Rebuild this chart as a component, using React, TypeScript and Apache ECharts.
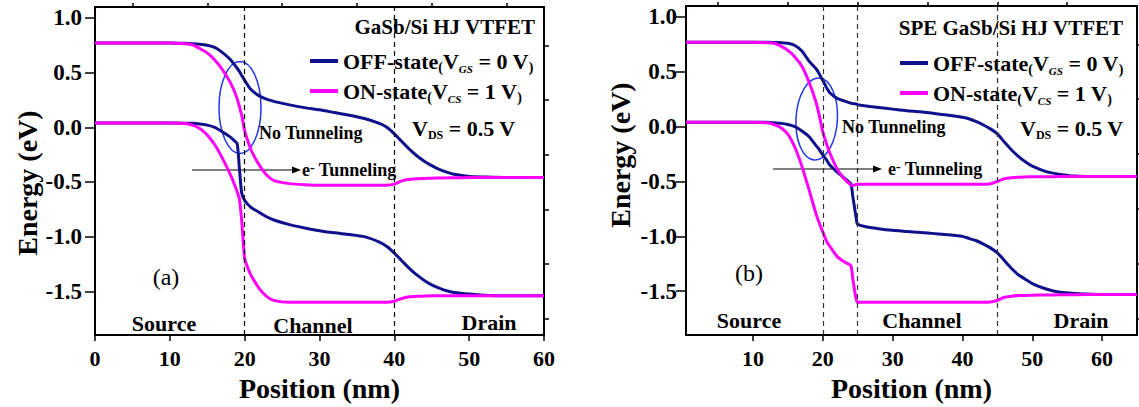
import React, { useEffect, useRef } from "react";
import * as echarts from "echarts";

// ---------- data ----------
const posA = [0, 5, 10, 12, 13, 14, 15, 16, 17, 18, 18.5, 19, 19.3, 19.6, 20, 20.5, 21, 22, 23, 24, 26, 28, 30, 32, 34, 36, 38, 39, 40, 41, 42, 43, 44, 45, 46, 47, 48, 50, 52, 55, 60];
const offCbA = [0.77, 0.77, 0.77, 0.768, 0.765, 0.76, 0.75, 0.73, 0.685, 0.625, 0.585, 0.54, 0.51, 0.475, 0.43, 0.375, 0.335, 0.285, 0.255, 0.235, 0.205, 0.18, 0.16, 0.135, 0.11, 0.08, 0.035, 0.0, -0.06, -0.13, -0.2, -0.26, -0.31, -0.35, -0.385, -0.41, -0.43, -0.45, -0.455, -0.46, -0.46];
const offVbA = [0.04, 0.04, 0.04, 0.038, 0.036, 0.03, 0.02, 0.0, -0.04, -0.085, -0.115, -0.15, -0.38, -0.6, -0.67, -0.71, -0.74, -0.78, -0.82, -0.85, -0.89, -0.92, -0.945, -0.965, -0.98, -1.0, -1.05, -1.09, -1.15, -1.22, -1.29, -1.35, -1.4, -1.44, -1.47, -1.495, -1.51, -1.525, -1.535, -1.54, -1.54];
const onCbA = [0.77, 0.77, 0.77, 0.765, 0.755, 0.72, 0.68, 0.615, 0.53, 0.42, 0.35, 0.26, 0.19, 0.11, -0.03, -0.14, -0.23, -0.35, -0.44, -0.49, -0.515, -0.525, -0.53, -0.53, -0.53, -0.53, -0.53, -0.53, -0.52, -0.49, -0.475, -0.47, -0.468, -0.465, -0.463, -0.462, -0.461, -0.46, -0.46, -0.46, -0.46];
const onVbA = [0.04, 0.04, 0.04, 0.035, 0.02, -0.01, -0.07, -0.16, -0.28, -0.42, -0.5, -0.59, -0.66, -0.85, -1.2, -1.3, -1.37, -1.48, -1.55, -1.585, -1.6, -1.6, -1.6, -1.6, -1.6, -1.6, -1.6, -1.6, -1.59, -1.565, -1.55, -1.545, -1.543, -1.54, -1.54, -1.54, -1.54, -1.54, -1.54, -1.54, -1.54];

const posB = [0.4, 5, 10, 12, 13, 14, 15, 16, 17, 18, 19, 19.5, 20, 20.5, 21, 22, 23, 24, 24.3, 24.9, 25, 26, 28, 30, 32, 34, 36, 38, 40, 41, 42, 43, 44, 45, 46, 47, 48, 49, 50, 52, 54, 56, 60, 65];
const offCbB = [0.77, 0.77, 0.77, 0.77, 0.768, 0.765, 0.76, 0.74, 0.69, 0.6, 0.53, 0.48, 0.42, 0.36, 0.31, 0.26, 0.235, 0.215, 0.21, 0.205, 0.2, 0.19, 0.175, 0.16, 0.145, 0.135, 0.12, 0.105, 0.085, 0.07, 0.045, 0.015, -0.02, -0.065, -0.14, -0.21, -0.27, -0.32, -0.36, -0.41, -0.435, -0.45, -0.455, -0.455];
const offVbB = [0.04, 0.04, 0.04, 0.04, 0.035, 0.03, 0.02, 0.0, -0.04, -0.09, -0.17, -0.21, -0.26, -0.3, -0.35, -0.41, -0.465, -0.52, -0.64, -0.88, -0.89, -0.91, -0.93, -0.945, -0.955, -0.965, -0.975, -0.985, -1.0, -1.02, -1.04, -1.07, -1.105, -1.15, -1.22, -1.29, -1.35, -1.39, -1.43, -1.48, -1.51, -1.52, -1.53, -1.53];
const onCbB = [0.77, 0.77, 0.77, 0.765, 0.76, 0.735, 0.695, 0.635, 0.55, 0.41, 0.23, 0.1, -0.05, -0.15, -0.24, -0.38, -0.47, -0.53, -0.535, -0.525, -0.525, -0.525, -0.525, -0.525, -0.525, -0.525, -0.525, -0.525, -0.525, -0.525, -0.525, -0.525, -0.52, -0.5, -0.475, -0.465, -0.46, -0.458, -0.457, -0.456, -0.455, -0.455, -0.455, -0.455];
const onVbB = [0.04, 0.04, 0.04, 0.035, 0.02, -0.01, -0.07, -0.19, -0.36, -0.57, -0.79, -0.88, -0.96, -1.04, -1.09, -1.18, -1.23, -1.265, -1.39, -1.6, -1.6, -1.6, -1.6, -1.6, -1.6, -1.6, -1.6, -1.6, -1.6, -1.6, -1.6, -1.6, -1.598, -1.585, -1.555, -1.545, -1.54, -1.538, -1.536, -1.535, -1.533, -1.532, -1.53, -1.53];

const xTicksA = [0, 10, 20, 30, 40, 50, 60];
const xTicksB = [10, 20, 30, 40, 50, 60];
const xMinor = [5, 15, 25, 35, 45, 55];
const yTicks = [-1.5, -1.0, -0.5, 0.0, 0.5, 1.0];
const yMinor = [-1.75, -1.25, -0.75, -0.25, 0.25, 0.75];
const boundariesA = [20, 40];
const boundariesB = [20, 25, 45];

const FONT = "'Liberation Serif', 'Times New Roman', serif";
const NAVY = "#10108c";
const MAGENTA = "#ff00ff";
const ELLIPSE = "#1f36e8";

const zip = (xs: number[], ys: number[]) => xs.map((x, i) => [x, ys[i]]);

function lineSeries(name: string, xs: number[], ys: number[], color: string, gi: number, marks?: number[], markColor?: string) {
  const s: any = {
    type: "line",
    name,
    xAxisIndex: gi,
    yAxisIndex: gi,
    data: zip(xs, ys),
    showSymbol: false,
    symbol: "none",
    smooth: 0.2,
    lineStyle: { color, width: 3 },
    itemStyle: { color },
    emphasis: { disabled: true },
  };
  if (marks) {
    s.markLine = {
      silent: true,
      symbol: ["none", "none"],
      label: { show: false },
      lineStyle: { type: [5, 4], color: markColor, width: 1.2 },
      data: marks.map((v) => ({ xAxis: v })),
    };
  }
  return s;
}

const legendRich = {
  b: { fontFamily: FONT, fontSize: 22, fontWeight: "bold", color: "#000", lineHeight: 26 },
  p: { fontFamily: FONT, fontSize: 14, fontWeight: "bold", color: "#000", lineHeight: 10, verticalAlign: "bottom" },
  s: { fontFamily: FONT, fontSize: 11, fontWeight: "bold", fontStyle: "italic", color: "#000", lineHeight: 8, verticalAlign: "bottom" },
};

function legend(left: number, top: number) {
  return {
    left,
    top,
    orient: "vertical",
    padding: 0,
    itemGap: 6,
    itemWidth: 28,
    itemHeight: 4,
    icon: "rect",
    selectedMode: false,
    data: ["OFF", "ON"],
    formatter: (n: string) =>
      n === "OFF"
        ? "{b|OFF-state}{p|(}{b|V}{s|GS}{b| = 0 V}{p|)}"
        : "{b|ON-state}{p|(}{b|V}{s|CS}{b| = 1 V}{p|)}",
    textStyle: { fontFamily: FONT, fontSize: 22, fontWeight: "bold", color: "#000", rich: legendRich },
  };
}

function txt(text: string, x: number, y: number, size: number, align = "left", weight = "bold", rich?: any) {
  return {
    type: "text",
    silent: true,
    z: 50,
    style: {
      text,
      x,
      y,
      fill: "#000",
      fontFamily: FONT,
      fontSize: size,
      fontWeight: weight,
      align,
      textAlign: align,
      verticalAlign: "middle",
      textVerticalAlign: "middle",
      rich,
    },
  };
}

const annRich = {
  b: { fontFamily: FONT, fontSize: 18, fontWeight: "bold", color: "#000", lineHeight: 20 },
  sup: { fontFamily: FONT, fontSize: 14, fontWeight: "bold", color: "#000", lineHeight: 8, verticalAlign: "top" },
};
const vdsRich = {
  b: { fontFamily: FONT, fontSize: 22, fontWeight: "bold", color: "#000", lineHeight: 26 },
  s: { fontFamily: FONT, fontSize: 12, fontWeight: "bold", color: "#000", lineHeight: 8, verticalAlign: "bottom" },
};

function arrow(x1: number, x2: number, y: number) {
  return [
    { type: "line", silent: true, shape: { x1, y1: y, x2: x2 - 4, y2: y }, style: { stroke: "#000", lineWidth: 1 } },
    { type: "polygon", silent: true, shape: { points: [[x2 - 9, y - 3.5], [x2, y], [x2 - 9, y + 3.5]] }, style: { fill: "#000" } },
  ];
}

function ellipse(cx: number, cy: number, rx: number, ry: number, rot: number) {
  return {
    type: "ellipse",
    silent: true,
    x: cx,
    y: cy,
    rotation: rot,
    shape: { cx: 0, cy: 0, rx, ry },
    style: { fill: "none", stroke: ELLIPSE, lineWidth: 1.5 },
  };
}

const tickLabel = { fontFamily: FONT, fontWeight: "bold", color: "#000" };

function xAxisMain(gi: number, min: number, max: number, ticks: number[]) {
  return {
    type: "value",
    gridIndex: gi,
    min,
    max,
    name: "Position (nm)",
    nameLocation: "middle",
    nameGap: 30,
    nameTextStyle: { fontFamily: FONT, fontSize: 28, fontWeight: "bold", color: "#000" },
    axisLine: { show: true, onZero: false, lineStyle: { color: "#000", width: 2 } },
    axisTick: { show: true, customValues: ticks, length: 6, lineStyle: { color: "#000", width: 1.5 } },
    axisLabel: { ...tickLabel, fontSize: 22, customValues: ticks, margin: 12 },
    splitLine: { show: false },
  };
}
function xAxisMinor(gi: number, min: number, max: number) {
  return {
    type: "value",
    gridIndex: gi,
    min,
    max,
    axisLine: { show: false, onZero: false },
    axisTick: { show: true, customValues: xMinor, length: 4, lineStyle: { color: "#000", width: 1.5 } },
    axisLabel: { show: false },
    splitLine: { show: false },
  };
}
function yAxisMain(gi: number, margin: number, nameGap: number, padding: number[]) {
  return {
    type: "value",
    gridIndex: gi,
    min: -1.9,
    max: 1.1,
    name: "Energy (eV)",
    nameLocation: "middle",
    nameGap,
    nameTextStyle: { fontFamily: FONT, fontSize: 28, fontWeight: "bold", color: "#000", padding },
    axisLine: { show: true, onZero: false, lineStyle: { color: "#000", width: 2 } },
    axisTick: { show: true, customValues: yTicks, length: 10, lineStyle: { color: "#000", width: 1.5 } },
    axisLabel: { ...tickLabel, fontSize: 23, customValues: yTicks, margin, formatter: (v: number) => v.toFixed(1) },
    splitLine: { show: false },
  };
}
function yAxisMinor(gi: number) {
  return {
    type: "value",
    gridIndex: gi,
    min: -1.9,
    max: 1.1,
    axisLine: { show: false, onZero: false },
    axisTick: { show: true, customValues: yMinor, length: 5, lineStyle: { color: "#000", width: 1.5 } },
    axisLabel: { show: false },
    splitLine: { show: false },
  };
}

function buildOption() {
  const grid = { show: true, borderColor: "#000", borderWidth: 2, backgroundColor: "transparent" };
  return {
    animation: false,
    backgroundColor: "#fff",
    grid: [
      { ...grid, left: 95, top: 7, width: 449, height: 332 },
      { ...grid, left: 686, top: 6, width: 451, height: 333 },
    ],
    xAxis: [xAxisMain(0, 0, 60, xTicksA), xAxisMain(1, 0.4, 65, xTicksB), xAxisMinor(0, 0, 60), xAxisMinor(1, 0.4, 65)],
    yAxis: [yAxisMain(0, 13, 44, [0, 24, 0, 0]), yAxisMain(1, 9, 52, [0, 0, 0, 31]), yAxisMinor(0), yAxisMinor(1)],
    legend: [legend(310, 50), legend(900, 52)],
    series: [
      lineSeries("OFF", posA, offCbA, NAVY, 0, boundariesA, "#000"),
      lineSeries("OFF", posA, offVbA, NAVY, 0),
      lineSeries("ON", posA, onCbA, MAGENTA, 0),
      lineSeries("ON", posA, onVbA, MAGENTA, 0),
      lineSeries("OFF", posB, offCbB, NAVY, 1, boundariesB, "#333"),
      lineSeries("OFF", posB, offVbB, NAVY, 1),
      lineSeries("ON", posB, onCbB, MAGENTA, 1),
      lineSeries("ON", posB, onVbB, MAGENTA, 1),
    ],
    graphic: [
      // panel (a)
      txt("GaSb/Si HJ VTFET", 535, 27, 21, "right"),
      txt("{b|V}{s|DS}{b| = 0.5 V}", 412, 128, 22, "left", "bold", vdsRich),
      txt("No Tunneling", 259, 133, 18),
      ...arrow(192, 301, 170),
      txt("{b|e}{sup|-}{b| Tunneling}", 302, 170, 18, "left", "bold", annRich),
      ellipse(240, 107.5, 21, 46, 0),
      txt("(a)", 166, 277, 24, "center", "normal"),
      txt("Source", 164, 323, 22, "center"),
      txt("Channel", 313, 325, 22, "center"),
      txt("Drain", 489, 322, 22, "center"),
      // panel (b)
      txt("SPE GaSb/Si HJ VTFET", 1123, 28, 21, "right"),
      txt("{b|V}{s|DS}{b| = 0.5 V}", 1020, 128, 22, "left", "bold", vdsRich),
      txt("No Tunneling", 842, 127, 18),
      ...arrow(773, 882, 169),
      txt("{b|e}{sup|-}{b| Tunneling}", 888, 169, 18, "left", "bold", annRich),
      ellipse(816.7, 119, 20.7, 41, -0.06),
      txt("(b)", 749, 273, 24, "center", "normal"),
      txt("Source", 749, 320, 22, "center"),
      txt("Channel", 922, 320, 22, "center"),
      txt("Drain", 1081, 320, 22, "center"),
    ],
  };
}

export default function App() {
  const ref = useRef<HTMLDivElement>(null);
  useEffect(() => {
    if (!ref.current) return;
    const chart = echarts.init(ref.current, undefined, { renderer: "svg" });
    chart.setOption(buildOption() as any);
    return () => chart.dispose();
  }, []);
  return (
    <div
      ref={ref}
      style={{ position: "absolute", left: 0, top: 0, width: 1139, height: 407, background: "#fff" }}
    />
  );
}
